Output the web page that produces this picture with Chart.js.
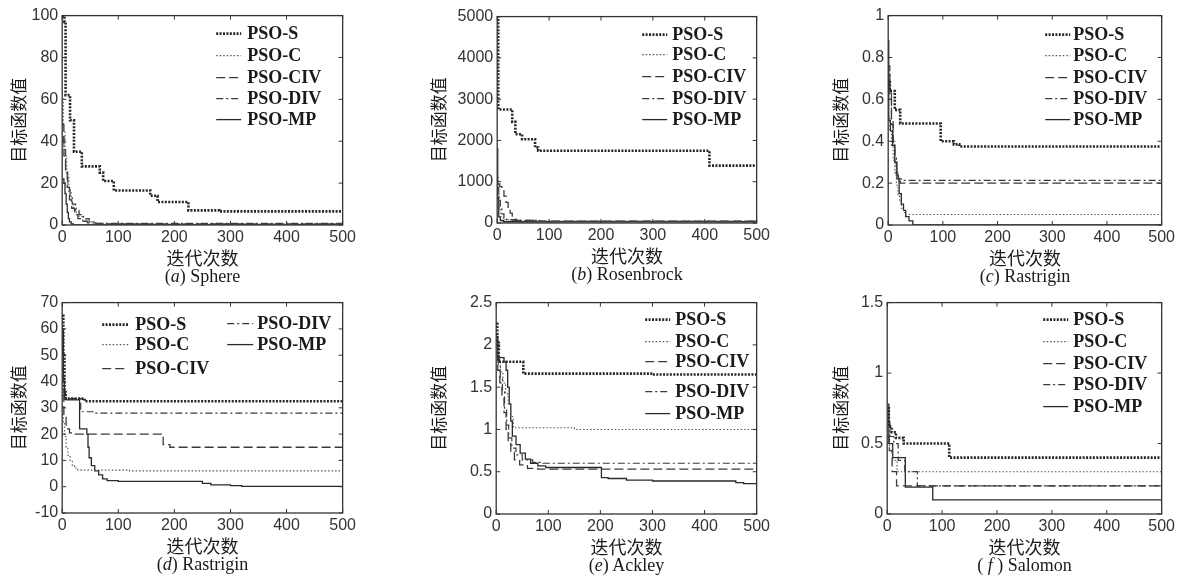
<!DOCTYPE html>
<html>
<head>
<meta charset="utf-8">
<script src="https://cdn.jsdelivr.net/npm/chart.js@4.4.1/dist/chart.umd.min.js"></script>
<style>
    html, body { margin: 0; padding: 0; background: #fff; }
    body { width: 1184px; height: 585px; position: relative; overflow: hidden; }
    .plot { position: absolute; }
    .cap {
        position: absolute;
        height: 20px;
        line-height: 20px;
        text-align: center;
        font-family: "Liberation Serif", "Times New Roman", serif;
        font-size: 18px;
        color: #1a1a1a;
    }
</style>
</head>
<body>
<script>
const iterTicks = [0, 100, 200, 300, 400, 500];
const seriesNames = ['PSO-S', 'PSO-C', 'PSO-CIV', 'PSO-DIV', 'PSO-MP'];

// (a) Sphere
const sphereTicks = [0, 20, 40, 60, 80, 100];
const sphereS = [[0,100],[4,97],[6,62],[14,50],[21,35],[35,28],[67,25],[73,21],[92,16.5],[157,14],[170,11],[225,7],[280,6.5],[500,6.5]];
const sphereC = [[0,60],[2,45],[5,33],[8,24],[12,16],[16,11],[20,8],[25,6],[30,4],[36,2.5],[45,1.5],[55,0.8],[80,0.4],[500,0.3]];
const sphereCIV = [[0,48],[3,36],[6,26],[9,18],[13,12],[17,8],[22,5],[28,3],[35,1.8],[45,1],[60,0.5],[500,0.3]];
const sphereDIV = [[0,42],[3,33],[6,25],[10,18],[14,13],[18,10],[24,7],[30,5],[38,3],[48,1.5],[60,0.8],[500,0.5]];
const sphereMP = [[0,22],[3,20],[5,15],[7,10],[9,6],[11,3],[13,1.5],[16,0.5],[20,0.1],[500,0]];

// (b) Rosenbrock
const rosenTicks = [0, 1000, 2000, 3000, 4000, 5000];
const rosenS = [[0,5000],[2,2750],[29,2450],[35,2150],[48,2030],[73,1830],[79,1750],[409,1390],[500,1390]];
const rosenC = [[0,1100],[2,700],[4,350],[7,150],[12,80],[25,55],[60,45],[500,40]];
const rosenCIV = [[0,950],[5,880],[9,780],[13,650],[17,500],[21,360],[25,240],[29,150],[33,90],[38,60],[80,45],[500,40]];
const rosenDIV = [[0,850],[3,600],[6,380],[9,220],[13,120],[18,80],[30,65],[77,55],[85,40],[500,35]];
const rosenMP = [[0,1800],[1,600],[3,150],[6,60],[12,30],[500,15]];

// (c) Rastrigin
const rastTicks = [0, 0.2, 0.4, 0.6, 0.8, 1];
const rastS = [[0,0.68],[3,0.64],[12,0.55],[22,0.485],[96,0.4],[120,0.385],[130,0.375],[500,0.375]];
const rastC = [[0,0.52],[3,0.45],[6,0.38],[9,0.31],[12,0.25],[15,0.19],[18,0.14],[21,0.11],[24,0.08],[28,0.06],[32,0.05],[500,0.048]];
const rastCIV = [[0,0.72],[3,0.6],[6,0.48],[9,0.38],[12,0.3],[15,0.24],[18,0.21],[22,0.2],[500,0.195]];
const rastDIV = [[0,0.76],[3,0.63],[6,0.5],[9,0.4],[12,0.32],[15,0.25],[19,0.22],[24,0.213],[500,0.21]];
const rastMP = [[0,0.88],[1,0.5],[4,0.45],[8,0.38],[12,0.3],[16,0.22],[20,0.15],[24,0.1],[28,0.07],[32,0.04],[38,0.02],[45,0],[500,0]];

// (d) Rastrigin
const rast2Ticks = [-10, 0, 10, 20, 30, 40, 50, 60, 70];
const rast2S = [[0,65],[2,50],[4,36],[6,33.5],[40,32.5],[500,32.3]];
const rast2C = [[0,30],[2,24],[4,19],[7,15],[10,12],[14,10],[18,8],[22,7],[28,6.3],[120,6],[500,6]];
const rast2CIV = [[0,35],[3,27],[7,22],[13,20.5],[20,20],[180,16],[192,15],[500,14.8]];
const rast2DIV = [[0,42],[3,36],[6,33.5],[33,28.5],[60,28],[500,28]];
const rast2MP = [[0,60],[2,40],[4,34],[7,33],[31,22],[44,20],[46,15],[48,11],[52,8],[58,6],[65,4.5],[72,3],[80,2.3],[100,2],[250,1.3],[265,0.7],[300,0.4],[320,0.1],[500,0.1]];

// (e) Ackley
const ackTicks = [0, 0.5, 1, 1.5, 2, 2.5];
const ackS = [[0,2.25],[2,2.05],[5,1.8],[52,1.66],[300,1.65],[500,1.64]];
const ackC = [[0,2.0],[3,1.8],[8,1.68],[13,1.55],[18,1.42],[23,1.3],[28,1.15],[33,1.02],[150,1.0],[500,0.99]];
const ackCIV = [[0,1.9],[3,1.7],[7,1.55],[11,1.4],[15,1.2],[19,1.0],[23,0.85],[28,0.73],[35,0.64],[45,0.58],[60,0.54],[80,0.53],[500,0.52]];
const ackDIV = [[0,2.0],[4,1.75],[8,1.6],[12,1.45],[16,1.25],[20,1.05],[24,0.9],[30,0.78],[38,0.7],[50,0.64],[70,0.61],[90,0.6],[500,0.595]];
const ackMP = [[0,2.1],[3,1.85],[15,1.8],[19,1.7],[22,1.5],[25,1.3],[28,1.1],[31,0.92],[38,0.82],[46,0.72],[56,0.65],[66,0.6],[80,0.57],[95,0.55],[202,0.43],[215,0.42],[250,0.4],[300,0.39],[460,0.37],[475,0.36],[500,0.36]];

// (f) Salomon
const salTicks = [0, 0.5, 1, 1.5];
const salS = [[0,0.75],[3,0.62],[8,0.58],[16,0.54],[30,0.5],[113,0.4],[500,0.4]];
const salC = [[0,0.6],[4,0.45],[10,0.38],[18,0.3],[500,0.3]];
const salCIV = [[0,0.55],[4,0.45],[9,0.3],[17,0.2],[500,0.195]];
const salDIV = [[0,0.65],[5,0.55],[12,0.5],[20,0.38],[32,0.3],[55,0.2],[500,0.195]];
const salMP = [[0,0.78],[3,0.5],[10,0.4],[33,0.19],[83,0.1],[500,0.1]];

// line look of each series, same order as seriesNames
const lineStyles = [
    { borderColor: '#262626', borderWidth: 2.6, borderDash: [2, 1.4] },
    { borderColor: '#555', borderWidth: 1.1, borderDash: [1.5, 2] },
    { borderColor: '#3a3a3a', borderWidth: 1.3, borderDash: [9, 4] },
    { borderColor: '#3a3a3a', borderWidth: 1.2, borderDash: [7, 3, 2, 3] },
    { borderColor: '#2a2a2a', borderWidth: 1.3, borderDash: [] },
];

const PAD_TOP = 12;
const PAD_RIGHT = 16;
const X_AXIS_H = 44;

// frame, inward ticks and the legend
const framePlugin = {
    id: 'frame',
    afterDatasetsDraw(chart, args, opts) {
        const { ctx, chartArea: a, scales: { x, y } } = chart;
        ctx.save();
        ctx.setLineDash([]);
        ctx.strokeStyle = '#333';
        ctx.lineWidth = 1.3;
        ctx.strokeRect(a.left, a.top, a.right - a.left, a.bottom - a.top);

        ctx.lineWidth = 1;
        const t = 4;
        ctx.beginPath();
        x.ticks.forEach(tk => {
            const px = x.getPixelForValue(tk.value);
            ctx.moveTo(px, a.bottom); ctx.lineTo(px, a.bottom - t);
            ctx.moveTo(px, a.top); ctx.lineTo(px, a.top + t);
        });
        y.ticks.forEach(tk => {
            const py = y.getPixelForValue(tk.value);
            ctx.moveTo(a.left, py); ctx.lineTo(a.left + t, py);
            ctx.moveTo(a.right, py); ctx.lineTo(a.right - t, py);
        });
        ctx.stroke();

        ctx.font = 'bold 18px "Liberation Serif", "Times New Roman", serif';
        ctx.textBaseline = 'middle';
        ctx.fillStyle = '#1a1a1a';
        opts.rows.forEach(([i, x1, x2, tx, dy]) => {
            const ds = chart.data.datasets[i];
            const ry = a.top + dy;
            ctx.strokeStyle = ds.borderColor;
            ctx.lineWidth = ds.borderWidth;
            ctx.setLineDash(ds.borderDash);
            ctx.beginPath();
            ctx.moveTo(a.left + x1, ry);
            ctx.lineTo(a.left + x2, ry);
            ctx.stroke();
            ctx.setLineDash([]);
            ctx.fillText(ds.label, a.left + tx, ry + 1);
        });
        ctx.restore();
    }
};

const oneColumn = (x1, x2, tx, rowYs) => rowYs.map((dy, i) => [i, x1, x2, tx, dy]);

const renderChart = ({ box, yTicks, series, legendRows, caption, titleGap }) => {
    const yAxisW = 10.2 + titleGap;
    const wrap = document.createElement('div');
    wrap.className = 'plot';
    wrap.style.left = (box.left - yAxisW) + 'px';
    wrap.style.top = (box.top - PAD_TOP) + 'px';
    const canvas = document.createElement('canvas');
    canvas.width = Math.round(yAxisW + box.width + PAD_RIGHT);
    canvas.height = PAD_TOP + box.height + X_AXIS_H;
    wrap.appendChild(canvas);
    document.body.appendChild(wrap);

    const cap = document.createElement('div');
    cap.className = 'cap';
    cap.style.left = box.left + 'px';
    cap.style.width = box.width + 'px';
    cap.style.top = (box.top + box.height + 41) + 'px';
    cap.innerHTML = caption;
    document.body.appendChild(cap);

    new Chart(canvas, {
        type: 'line',
        data: {
            datasets: series.map((pts, i) => ({
                label: seriesNames[i],
                data: pts.map(([x, y]) => ({ x, y })),
                stepped: true,
                pointRadius: 0,
                fill: false,
                ...lineStyles[i],
            }))
        },
        options: {
            responsive: false,
            animation: false,
            layout: { padding: { left: 0, top: PAD_TOP, right: PAD_RIGHT, bottom: 0 } },
            plugins: {
                legend: { display: false },
                tooltip: { enabled: false },
                frame: { rows: legendRows },
            },
            scales: {
                x: {
                    type: 'linear',
                    min: 0,
                    max: 500,
                    afterBuildTicks: s => { s.ticks = iterTicks.map(value => ({ value })); },
                    afterFit: s => { s.height = X_AXIS_H; },
                    grid: { display: false, drawTicks: false },
                    border: { display: false },
                    ticks: {
                        padding: 3,
                        maxRotation: 0,
                        color: '#333',
                        font: { family: '"Liberation Sans", Arial, sans-serif', size: 16 },
                    },
                    title: {
                        display: true,
                        text: '迭代次数',
                        padding: 0,
                        color: '#1a1a1a',
                        font: { family: '"Noto Sans CJK SC", sans-serif', size: 18 },
                    },
                },
                y: {
                    type: 'linear',
                    min: yTicks[0],
                    max: yTicks[yTicks.length - 1],
                    afterBuildTicks: s => { s.ticks = yTicks.map(value => ({ value })); },
                    afterFit: s => { s.width = yAxisW; },
                    grid: { display: false, drawTicks: false },
                    border: { display: false },
                    ticks: {
                        padding: 4,
                        color: '#333',
                        callback: v => String(+v.toFixed(2)),
                        font: { family: '"Liberation Sans", Arial, sans-serif', size: 16 },
                    },
                    title: {
                        display: true,
                        text: '目标函数值',
                        padding: 0,
                        color: '#1a1a1a',
                        font: { family: '"Noto Sans CJK SC", sans-serif', size: 17 },
                    },
                },
            },
        },
        plugins: [framePlugin],
    });
};

renderChart({
    box: { left: 62, top: 14, width: 281, height: 211 },
    titleGap: 44,
    yTicks: sphereTicks,
    series: [sphereS, sphereC, sphereCIV, sphereDIV, sphereMP],
    legendRows: oneColumn(154, 179, 185, [18, 40, 62, 83, 104]),
    caption: '(<i>a</i>) Sphere',
});

renderChart({
    box: { left: 497, top: 15, width: 260, height: 208 },
    titleGap: 59,
    yTicks: rosenTicks,
    series: [rosenS, rosenC, rosenCIV, rosenDIV, rosenMP],
    legendRows: oneColumn(145, 170, 175, [18, 38, 60, 82, 103]),
    caption: '(<i>b</i>) Rosenbrock',
});

renderChart({
    box: { left: 888, top: 14, width: 274, height: 211 },
    titleGap: 48,
    yTicks: rastTicks,
    series: [rastS, rastC, rastCIV, rastDIV, rastMP],
    legendRows: oneColumn(157, 182, 185, [19, 40, 62, 83, 104]),
    caption: '(<i>c</i>) Rastrigin',
});

renderChart({
    box: { left: 62, top: 301, width: 281, height: 212 },
    titleGap: 44,
    yTicks: rast2Ticks,
    series: [rast2S, rast2C, rast2CIV, rast2DIV, rast2MP],
    legendRows: [
        [0, 40, 66, 73, 22], [1, 40, 66, 73, 42], [2, 40, 66, 73, 66],
        [3, 165, 191, 195, 21], [4, 165, 191, 195, 42],
    ],
    caption: '(<i>d</i>) Rastrigin',
});

renderChart({
    box: { left: 496, top: 301, width: 261, height: 213 },
    titleGap: 58,
    yTicks: ackTicks,
    series: [ackS, ackC, ackCIV, ackDIV, ackMP],
    legendRows: oneColumn(149, 174, 179, [17, 39, 59, 89, 111]),
    caption: '(<i>e</i>) Ackley',
});

renderChart({
    box: { left: 887, top: 301, width: 275, height: 213 },
    titleGap: 47,
    yTicks: salTicks,
    series: [salS, salC, salCIV, salDIV, salMP],
    legendRows: oneColumn(156, 181, 186, [17, 39, 61, 82, 104]),
    caption: '( <i>f</i> ) Salomon',
});
</script>
</body>
</html>
